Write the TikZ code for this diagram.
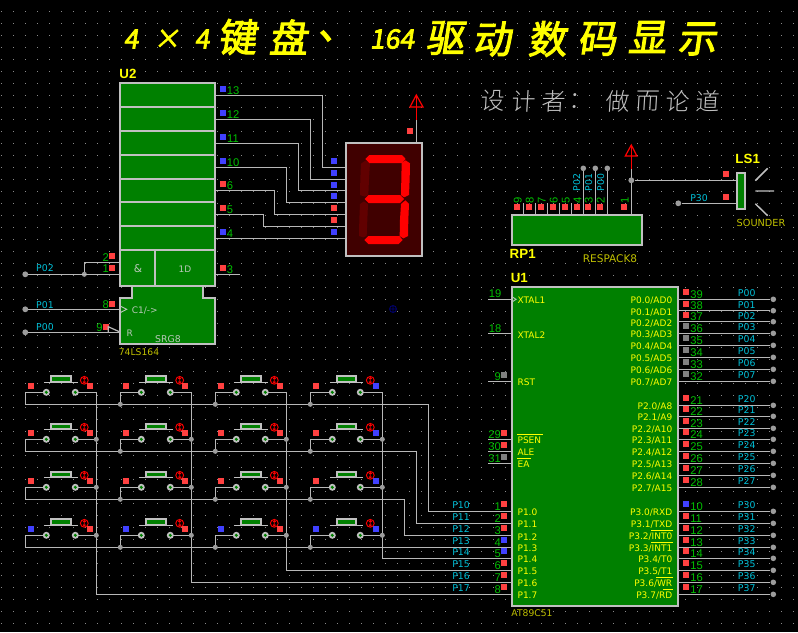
\documentclass[tikz,border=0pt]{standalone}
\usepackage{fontspec}
\setmainfont{DejaVu Sans}
\newfontfamily\labfont{Liberation Sans}
\newfontfamily\titlef[FakeSlant=0.15,FakeBold=2.5]{Noto Sans CJK SC}
\newfontfamily\subf[FakeSlant=0.06]{Noto Sans CJK SC Light}
\definecolor{wirec}{HTML}{B8B8B8}
\definecolor{bordc}{HTML}{C0C0C0}
\definecolor{dotc}{HTML}{8A8A8A}
\definecolor{chipg}{HTML}{008000}
\definecolor{mred}{HTML}{FF4040}
\definecolor{mblue}{HTML}{4040FF}
\definecolor{mgray}{HTML}{808080}
\definecolor{numg}{HTML}{00C000}
\definecolor{netc}{HTML}{00C0D8}
\definecolor{yel}{HTML}{FFFF00}
\definecolor{dyel}{HTML}{C0C000}
\definecolor{symt}{HTML}{B8C8B8}
\newcommand\pinmk[3]{\fill[#1] ({#2-3},{#3-3}) rectangle ++(6,6);}
\tikzset{
  wire/.style={draw=wirec,line width=0.9pt},
  redwire/.style={draw=red,line width=0.9pt},
  chip/.style={draw=bordc,fill=chipg,line width=1.5pt},
  junc/.style={circle,fill=wirec!85!black,inner sep=0pt,minimum size=3.8pt},
  pinnum/.style={text=numg,inner sep=0pt,font=\labfont\fontsize{8.4}{9}\selectfont},
  netlab/.style={text=netc,inner sep=0pt,font=\fontsize{7}{8}\selectfont},
  chiptxt/.style={text=yel,inner sep=0pt,font=\fontsize{6.75}{8}\selectfont},
  symtxt/.style={text=symt,inner sep=0pt,font=\fontsize{6.75}{8}\selectfont},
  partref/.style={text=yel,inner sep=0pt,font=\labfont\bfseries\fontsize{10}{11}\selectfont},
  partval/.style={text=dyel,inner sep=0pt,font=\fontsize{6.9}{8}\selectfont},
  titletxt/.style={text=yel,inner sep=0pt,font=\titlef\fontsize{29}{30}\selectfont},
  titlenum/.style={text=yel,inner sep=0pt,font=\titlef\fontsize{20}{22}\selectfont},
  subtxt/.style={text=bordc,inner sep=0pt,font=\subf\fontsize{18}{20}\selectfont},
}
\begin{document}
\begin{tikzpicture}[x=0.75pt,y=-0.75pt]
\useasboundingbox (0,0) rectangle (798,632);
\fill[black] (0,0) rectangle (798,632);
% grid
\foreach \i in {0,...,66}{\foreach \j in {0,...,51}{
  \fill[dotc] ({1+12*\i},{11+12*\j}) rectangle ++(1,1);
}}
% titles
\node[titlenum] (t1) at (131,39) {4};
\node[titlenum] (t2) at (167,39) {×};
\node[titlenum] (t3) at (202,39) {4};
\node[titletxt] (t4) at (237,37) {键};
\node[titletxt] (t5) at (288,37) {盘};
\node[titletxt] (t6) at (337,36) {、};
\node[titlenum] (t7) at (392,39) {164};
\node[titletxt] (t8) at (445,38) {驱};
\node[titletxt] (t9) at (492,39) {动};
\node[titletxt] (t10) at (547,39) {数};
\node[titletxt] (t11) at (597,39) {码};
\node[titletxt] (t12) at (647,37) {显};
\node[titletxt] (t13) at (697,39) {示};
\node[subtxt] (s1) at (492,101) {设};
\node[subtxt] (s2) at (523,101) {计};
\node[subtxt] (s3) at (553,101) {者};
\node[subtxt] (s4) at (580,101) {：};
\node[subtxt] (s5) at (617,101) {做};
\node[subtxt] (s6) at (647,101) {而};
\node[subtxt] (s7) at (677,101) {论};
\node[subtxt] (s8) at (707,101) {道};

% ---------- U2 wires
\foreach \n/\ya/\xb/\yb in {a/95.3/322.3/167.3,b/119.3/310.3/179.3,c/143.3/298.3/190.3,d/167.3/286.3/202.3,e/190.3/274.3/214.3,f/214.3/263.3/226.3,g/238.3/263.3/238.3}{
  \coordinate (uo\n) at (215,\ya);
  \coordinate (di\n) at (346,\yb);
  \coordinate (tu\n) at (\xb,\ya);
  \draw[wire] (uo\n) -- (tu\n) |- (di\n);
}
\coordinate (uo3) at (215,274.3); \coordinate (uo3e) at (240,274.3);
\draw[wire] (uo3) -- (uo3e);
\coordinate (p02) at (25.3,274.3);\coordinate (p01) at (25.3,309.3);\coordinate (p00) at (25.3,332.3);
\coordinate (u2p1) at (120,274.3);\coordinate (u2p2) at (120,262.3);\coordinate (u2p8) at (120,309.3);\coordinate (u2p9) at (120,332.3);
\node[junc] (j1) at (84.3,274.3) {};
\draw[wire] (p02) -- (u2p1);
\draw[wire] (j1) |- (u2p2);
\draw[wire] (p01) -- (u2p8);
\draw[wire] (p00) -- (u2p9);
\node[junc,minimum size=4.4pt] (d02) at (p02) {};
\node[junc,minimum size=4.4pt] (d01) at (p01) {};
\node[junc,minimum size=4.4pt] (d00) at (p00) {};
\node[netlab] (l02) at (45,268) {P02};
\node[netlab] (l01) at (45,304.7) {P01};
\node[netlab] (l00) at (45,326.7) {P00};
\node[pinnum] (n2) at (105.7,257.5) {2};
\node[pinnum] (n1) at (105.7,269) {1};
\node[pinnum] (n8) at (105.7,304.7) {8};
\node[pinnum] (n9) at (99.5,327.5) {9};
\pinmk{mred}{112}{256}\pinmk{mred}{112}{267.5}\pinmk{mred}{112}{303.5}\pinmk{mred}{106}{326.5}
% U2 body
\draw[chip] (119.5,286) -- (132,286) -- (132,297.7) -- (119.5,297.7) -- (119.5,344) -- (215,344) -- (215,297.7) -- (203,297.7) -- (203,286) -- cycle;
\draw[chip] (119.5,82.7) rectangle (215,286);
\foreach \y in {106.7,130.7,154.7,178.7,202,225.7,250}{
  \draw[draw=bordc,line width=1.2pt] (119.5,\y) -- (215,\y);
}
\draw[draw=bordc,line width=1.2pt] (155,250) -- (155,286);
\draw[draw=symt,line width=0.7pt] (119.5,305.7) -- (126.7,309.3) -- (119.5,313);
\draw[wire] (108.3,332.3) -- (108.3,326.7) -- (119.3,331.7);
\node[symtxt,font=\fontsize{8}{9}\selectfont] (am) at (138,269) {\&};
\node[symtxt] (dd) at (185,269.5) {1D};
\node[symtxt] (c1) at (144.7,310.7) {C1/->};
\node[symtxt] (rr) at (129.7,333.5) {R};
\node[symtxt,font=\fontsize{7}{8}\selectfont] (srg) at (168,339.5) {SRG8};
\node[partref] (u2) at (128,74) {U2};
\node[partval] (v2) at (139,351.7) {74LS164};
\foreach \n/\y/\c/\xt in {13/95.3/mblue/233,12/119.3/mblue/233,11/143.3/mblue/233,10/167.3/mblue/233,6/190.3/mred/230,5/214.3/mred/230,4/238.3/mblue/230,3/274.3/mred/230}{
  \pinmk{\c}{222.7}{\y-6}
  \node[pinnum] (un\n) at (\xt,\y-5) {\n};
}
% ---------- display
\coordinate (dtop) at (416.3,142.7);\coordinate (pw1) at (416.3,120);\coordinate (pw1a) at (416.3,95);
\draw[wire] (dtop) -- (pw1);
\draw[redwire] (pw1) -- (pw1a);
\draw[redwire] (pw1a) -- (410,107) -- (423,107) -- cycle;
\pinmk{mred}{410}{130.7}
\foreach \y/\c in {161/mblue,173/mblue,185/mblue,196/mblue,208/mred,220/mred,232/mblue}{\pinmk{\c}{334}{\y}}
\draw[draw=bordc,fill=red!25!black,line width=1.5pt] (345.7,142.7) rectangle (422.3,256.3);
\begin{scope}[shift={(260,80)},x=0.25pt,y=-0.25pt]
\fill[red!38!black] (303,251) -- (316,242) -- (330,248) -- (327,296) -- (325,345) -- (315,350) -- (300,345) -- (301,296) -- cycle;
\fill[red!38!black] (300,372) -- (312,364) -- (324,372) -- (322,418) -- (320,468) -- (310,472) -- (297,468) -- (298,418) -- cycle;
\fill[red] (316,237) -- (328,225) -- (426,225) -- (437,237) -- (426,249) -- (328,249) -- cycle;
\fill[red] (425,248) -- (437,241) -- (450,250) -- (449,296) -- (447,345) -- (432,352) -- (423,345) -- (424,296) -- cycle;
\fill[red] (314,357) -- (326,345) -- (420,345) -- (432,357) -- (420,369) -- (326,369) -- cycle;
\fill[red] (423,372) -- (436,361) -- (447,372) -- (445,418) -- (444,468) -- (430,475) -- (419,468) -- (420,418) -- cycle;
\fill[red] (313,480) -- (325,468) -- (418,468) -- (428,480) -- (416,492) -- (325,492) -- cycle;
\end{scope}
% ---------- RP1
\foreach \x in {523.3,535.3,547.3,559.3,571.3}{\draw[wire] (\x,214.7) -- (\x,203.3);}
\foreach \x/\nm in {583.3/a,595.3/b,607.3/c}{
  \coordinate (rpb\nm) at (\x,214.7);
  \node[junc,minimum size=4.2pt] (rpd\nm) at (\x,168.3) {};
  \draw[wire] (rpb\nm) -- (rpd\nm);
}
\coordinate (rp1) at (631.3,214.7);\coordinate (pw2) at (631.3,169.3);\coordinate (pw2a) at (631.3,145);
\draw[wire] (rp1) -- (pw2);
\draw[redwire] (pw2) -- (pw2a);
\draw[redwire] (pw2a) -- (625.3,156) -- (636.9,156) -- cycle;
\node[junc,minimum size=4.4pt] (j2) at (631.3,180.3) {};
\coordinate (ls1a) at (737.3,180.3);\coordinate (ls1b) at (737.3,203.3);
\draw[wire] (j2) -- (ls1a);
\node[junc,minimum size=4.4pt] (p30d) at (678.3,203.3) {};
\draw[wire] (p30d) -- (ls1b);
\node[netlab] (l30) at (699,197.7) {P30};
\pinmk{mred}{726}{174}\pinmk{mred}{726}{196.7}
\foreach \x/\n in {517.3/9,529.3/8,541.3/7,553.3/6,565.3/5,577/4,588.3/3,600.3/2,624.3/1}{
  \pinmk{mred}{\x}{207.3}
  \node[pinnum,rotate=90] (rn\n) at (\x+0.5,200) {\n};
}
\node[netlab,rotate=90] (r02) at (576.7,182.3) {P02};
\node[netlab,rotate=90] (r01) at (588.7,182.3) {P01};
\node[netlab,rotate=90] (r00) at (600.7,182.3) {P00};
\draw[chip] (511.7,214.7) rectangle (642.3,245);
\node[partref] (rp) at (522.7,254) {RP1};
\node[partval,font=\fontsize{7.9}{9}\selectfont] (rv) at (610,258.5) {RESPACK8};
% ---------- LS1
\draw[chip] (737.3,173.3) rectangle (744.7,209.3);
\draw[draw=bordc,line width=1.1pt] (755.3,180.7) -- (767.7,168.3) (755.3,191) -- (774,191) (755.3,203.7) -- (767.7,215.7);
\node[partref] (ls) at (747.7,159.3) {LS1};
\node[partval,font=\fontsize{7.3}{8}\selectfont] (sv) at (761,222.7) {SOUNDER};
% ---------- faint marker
\draw[draw=blue!45!black,line width=0.6pt] (393,309) circle (3.5) (389,309) -- (397,309) (393,305) -- (393,313);
% ---------- keypad wires
\foreach \c/\xl/\xr/\xb/\xc in {1/46.3/75.3/25.3/96.3,2/141.3/170.3/120.3/191.3,3/236.3/265.3/215.3/286.3,4/332.3/360.3/310.3/382.3}{
  \foreach \r/\yp/\yb in {1/392.3/404.3,2/439.3/451.3,3/487.3/499.3,4/535.3/547.3}{
    \coordinate (pl\c\r) at (\xl,\yp);
    \coordinate (pr\c\r) at (\xr,\yp);
    \coordinate (bus\c\r) at (\xb,\yb);
    \coordinate (col\c\r) at (\xc,\yp);
    \draw[wire] (pl\c\r) -| (bus\c\r);
    \draw[wire] (pr\c\r) -- (col\c\r);
  }
}
\coordinate (u1l1) at (512,511.3);\coordinate (u1l2) at (512,523.3);\coordinate (u1l3) at (512,535.3);\coordinate (u1l4) at (512,547.3);
\coordinate (u1l5) at (512,558.3);\coordinate (u1l6) at (512,570.3);\coordinate (u1l7) at (512,582.3);\coordinate (u1l8) at (512,594.3);
\coordinate (turn1) at (428.3,404.3);\coordinate (turn2) at (416.3,451.3);\coordinate (turn3) at (404.3,499.3);
\draw[wire] (bus11) -- (turn1) |- (u1l1);
\draw[wire] (bus12) -- (turn2) |- (u1l2);
\draw[wire] (bus13) -- (turn3) |- (u1l3);
\draw[wire] (bus14) -- (u1l4);
\coordinate (ct4) at (382.3,558.3);\coordinate (ct3) at (286.3,570.3);\coordinate (ct2) at (191.3,582.3);\coordinate (ct1) at (96.3,594.3);
\draw[wire] (col41) -- (ct4) -- (u1l5);
\draw[wire] (col31) -- (ct3) -- (u1l6);
\draw[wire] (col21) -- (ct2) -- (u1l7);
\draw[wire] (col11) -- (ct1) -- (u1l8);
\foreach \c in {2,3,4}{\foreach \r in {1,2,3,4}{\node[junc] (jb\c\r) at (bus\c\r) {};}}
\foreach \c in {1,2,3,4}{\foreach \r in {2,3,4}{\node[junc] (jc\c\r) at (col\c\r) {};}}
% ---------- buttons
\foreach \c/\xl/\xr/\ml/\mr/\ic/\mrc in {1/46.3/75.3/31/90/84.3/mred,2/141.3/170.3/126/185/179.7/mred,3/236.3/265.3/221/280/274.3/mred,4/332.3/360.3/316/376/370.3/mblue}{
  \foreach \r/\yp/\ytop/\ybar/\mk/\mlc in {1/392.3/375/382.3/385.7/mred,2/439.3/423/429.7/432.7/mred,3/487.3/471/477.5/480.7/mred,4/535.3/518/525.3/528.7/mblue}{
    \draw[draw=bordc,line width=1.1pt] ({\xl-2},\ybar) -- ({\xr+3},\ybar);
    \draw[draw=bordc,fill=chipg,line width=1.4pt] ({\xl+4.6},\ytop+1) rectangle ({\xr-4.6},\ybar-0.4);
    \fill[bordc] (\xl,\yp) circle (3.5);
    \fill[chipg] (\xl,\yp) circle (1.7);
    \fill[bordc] (\xr,\yp) circle (3.5);
    \fill[chipg] (\xr,\yp) circle (1.7);
    \pinmk{\mlc}{\ml}{\mk}
    \draw[draw=red,line width=0.7pt] (\ic,\mk-5.4) circle (3.9);
    \draw[draw=red,line width=0.6pt] (\ic,\mk-8.2) -- (\ic,\mk-2.6) (\ic-1.3,\mk-6.8) -- (\ic,\mk-8.2) -- (\ic+1.3,\mk-6.8) (\ic-1.3,\mk-4) -- (\ic,\mk-2.6) -- (\ic+1.3,\mk-4);
    \pinmk{\mrc}{\mr}{\mk}
  }
}
% ---------- U1 left pins
\foreach \n/\y/\c/\net/\xn in {1/511.3/mred/P10/497.7,2/523.3/mred/P11/497.7,3/535.3/mred/P12/497.7,4/547.3/mblue/P13/497.7,5/558.3/mblue/P14/497.7,6/570.3/mred/P15/497.7,7/582.3/mred/P16/497.7,8/594.3/mred/P17/497.7}{
  \node[netlab] (ln\n) at (461,\y-6) {\net};
  \node[pinnum] (lp\n) at (\xn,\y-4.7) {\n};
  \pinmk{\c}{503.7}{\y-7}
}
\coordinate (u19a) at (488.3,299.3);\coordinate (u19b) at (512,299.3);
\coordinate (u18a) at (488.3,333.3);\coordinate (u18b) at (512,333.3);
\draw[wire] (u19a) -- (u19b);\draw[wire] (u18a) -- (u18b);
\node[pinnum] (n19) at (495,294) {19};
\node[pinnum] (n18) at (495,328.5) {18};
\foreach \n/\y/\c/\xn in {9/381.3/mgray/497.7,29/439.3/mred/494.5,30/451.3/mred/494.5,31/463.3/mgray/494.5}{
  \coordinate (lw\n a) at (488.3,\y);\coordinate (lw\n b) at (512,\y);
  \draw[wire] (lw\n a) -- (lw\n b);
  \node[pinnum] (lq\n) at (\xn,\y-5) {\n};
  \pinmk{\c}{503.7}{\y-6.5}
}
% ---------- U1 body
\draw[chip] (512,287.3) rectangle (678.3,605.7);
\draw[draw=symt,line width=0.7pt] (512,296.7) -- (516,299.3) -- (512,302);
\foreach \t/\y/\nm in {XTAL1/300.7/a,XTAL2/334.7/b,RST/382.7/c,PSEN/440.7/d,ALE/452.7/e,EA/464.7/f,P1.0/512.7/g,P1.1/524.7/h,P1.2/536.7/i,P1.3/548.7/j,P1.4/559.7/k,P1.5/571.7/l,P1.6/583.7/m,P1.7/595.7/n}{
  \node[chiptxt,anchor=west] (ci\nm) at (517.3,\y) {\t};
}
\node[partref] (u1) at (519.3,278) {U1};
\node[partval] (v1) at (532,613.5) {AT89C51};
\foreach \n/\y/\c/\net/\t in {
39/299.3/mred/P00/{P0.0/AD0},38/310.7/mred/P01/{P0.1/AD1},37/321.7/mred/P02/{P0.2/AD2},36/333.3/mgray/P03/{P0.3/AD3},
35/345.3/mgray/P04/{P0.4/AD4},34/357.3/mgray/P05/{P0.5/AD5},33/369.3/mgray/P06/{P0.6/AD6},32/381.3/mgray/P07/{P0.7/AD7},
21/405.3/mred/P20/{P2.0/A8},22/416.3/mred/P21/{P2.1/A9},23/428.3/mred/P22/{P2.2/A10},24/439.3/mred/P23/{P2.3/A11},
25/451.3/mred/P24/{P2.4/A12},26/463.3/mred/P25/{P2.5/A13},27/475.3/mred/P26/{P2.6/A14},28/487.3/mred/P27/{P2.7/A15},
10/511.3/mblue/P30/{P3.0/RXD},11/523.3/mred/P31/{P3.1/TXD},12/535.3/mred/P32/{P3.2/INT0},13/547.3/mred/P33/{P3.3/INT1},
14/558.3/mred/P34/{P3.4/T0},15/570.3/mred/P35/{P3.5/T1},16/582.3/mred/P36/{P3.6/WR},17/594.3/mred/P37/{P3.7/RD}}{
  \coordinate (rw\n) at (678.3,\y);
  \node[junc,minimum size=4.2pt] (rd\n) at (773.3,\y) {};
  \draw[wire] (rw\n) -- (rd\n);
  \node[netlab] (rl\n) at (746.7,\y-6) {\net};
  \node[pinnum,anchor=west] (rp\n) at (690,\y-4.7) {\n};
  \pinmk{\c}{685.7}{\y-7}
  \node[chiptxt,anchor=east] (ct\n) at (672.5,\y+1.4) {\t};
}
% overbars
\foreach \xa/\xb/\y in {517.3/543.3/434.3,517.3/531/458.3,651.3/672.7/530.3,651.3/672.7/542.3,656.3/672.7/577,663/672.7/589}{
  \draw[draw=yel,line width=0.6pt] (\xa,\y) -- (\xb,\y);
}
\end{tikzpicture}
\end{document}
